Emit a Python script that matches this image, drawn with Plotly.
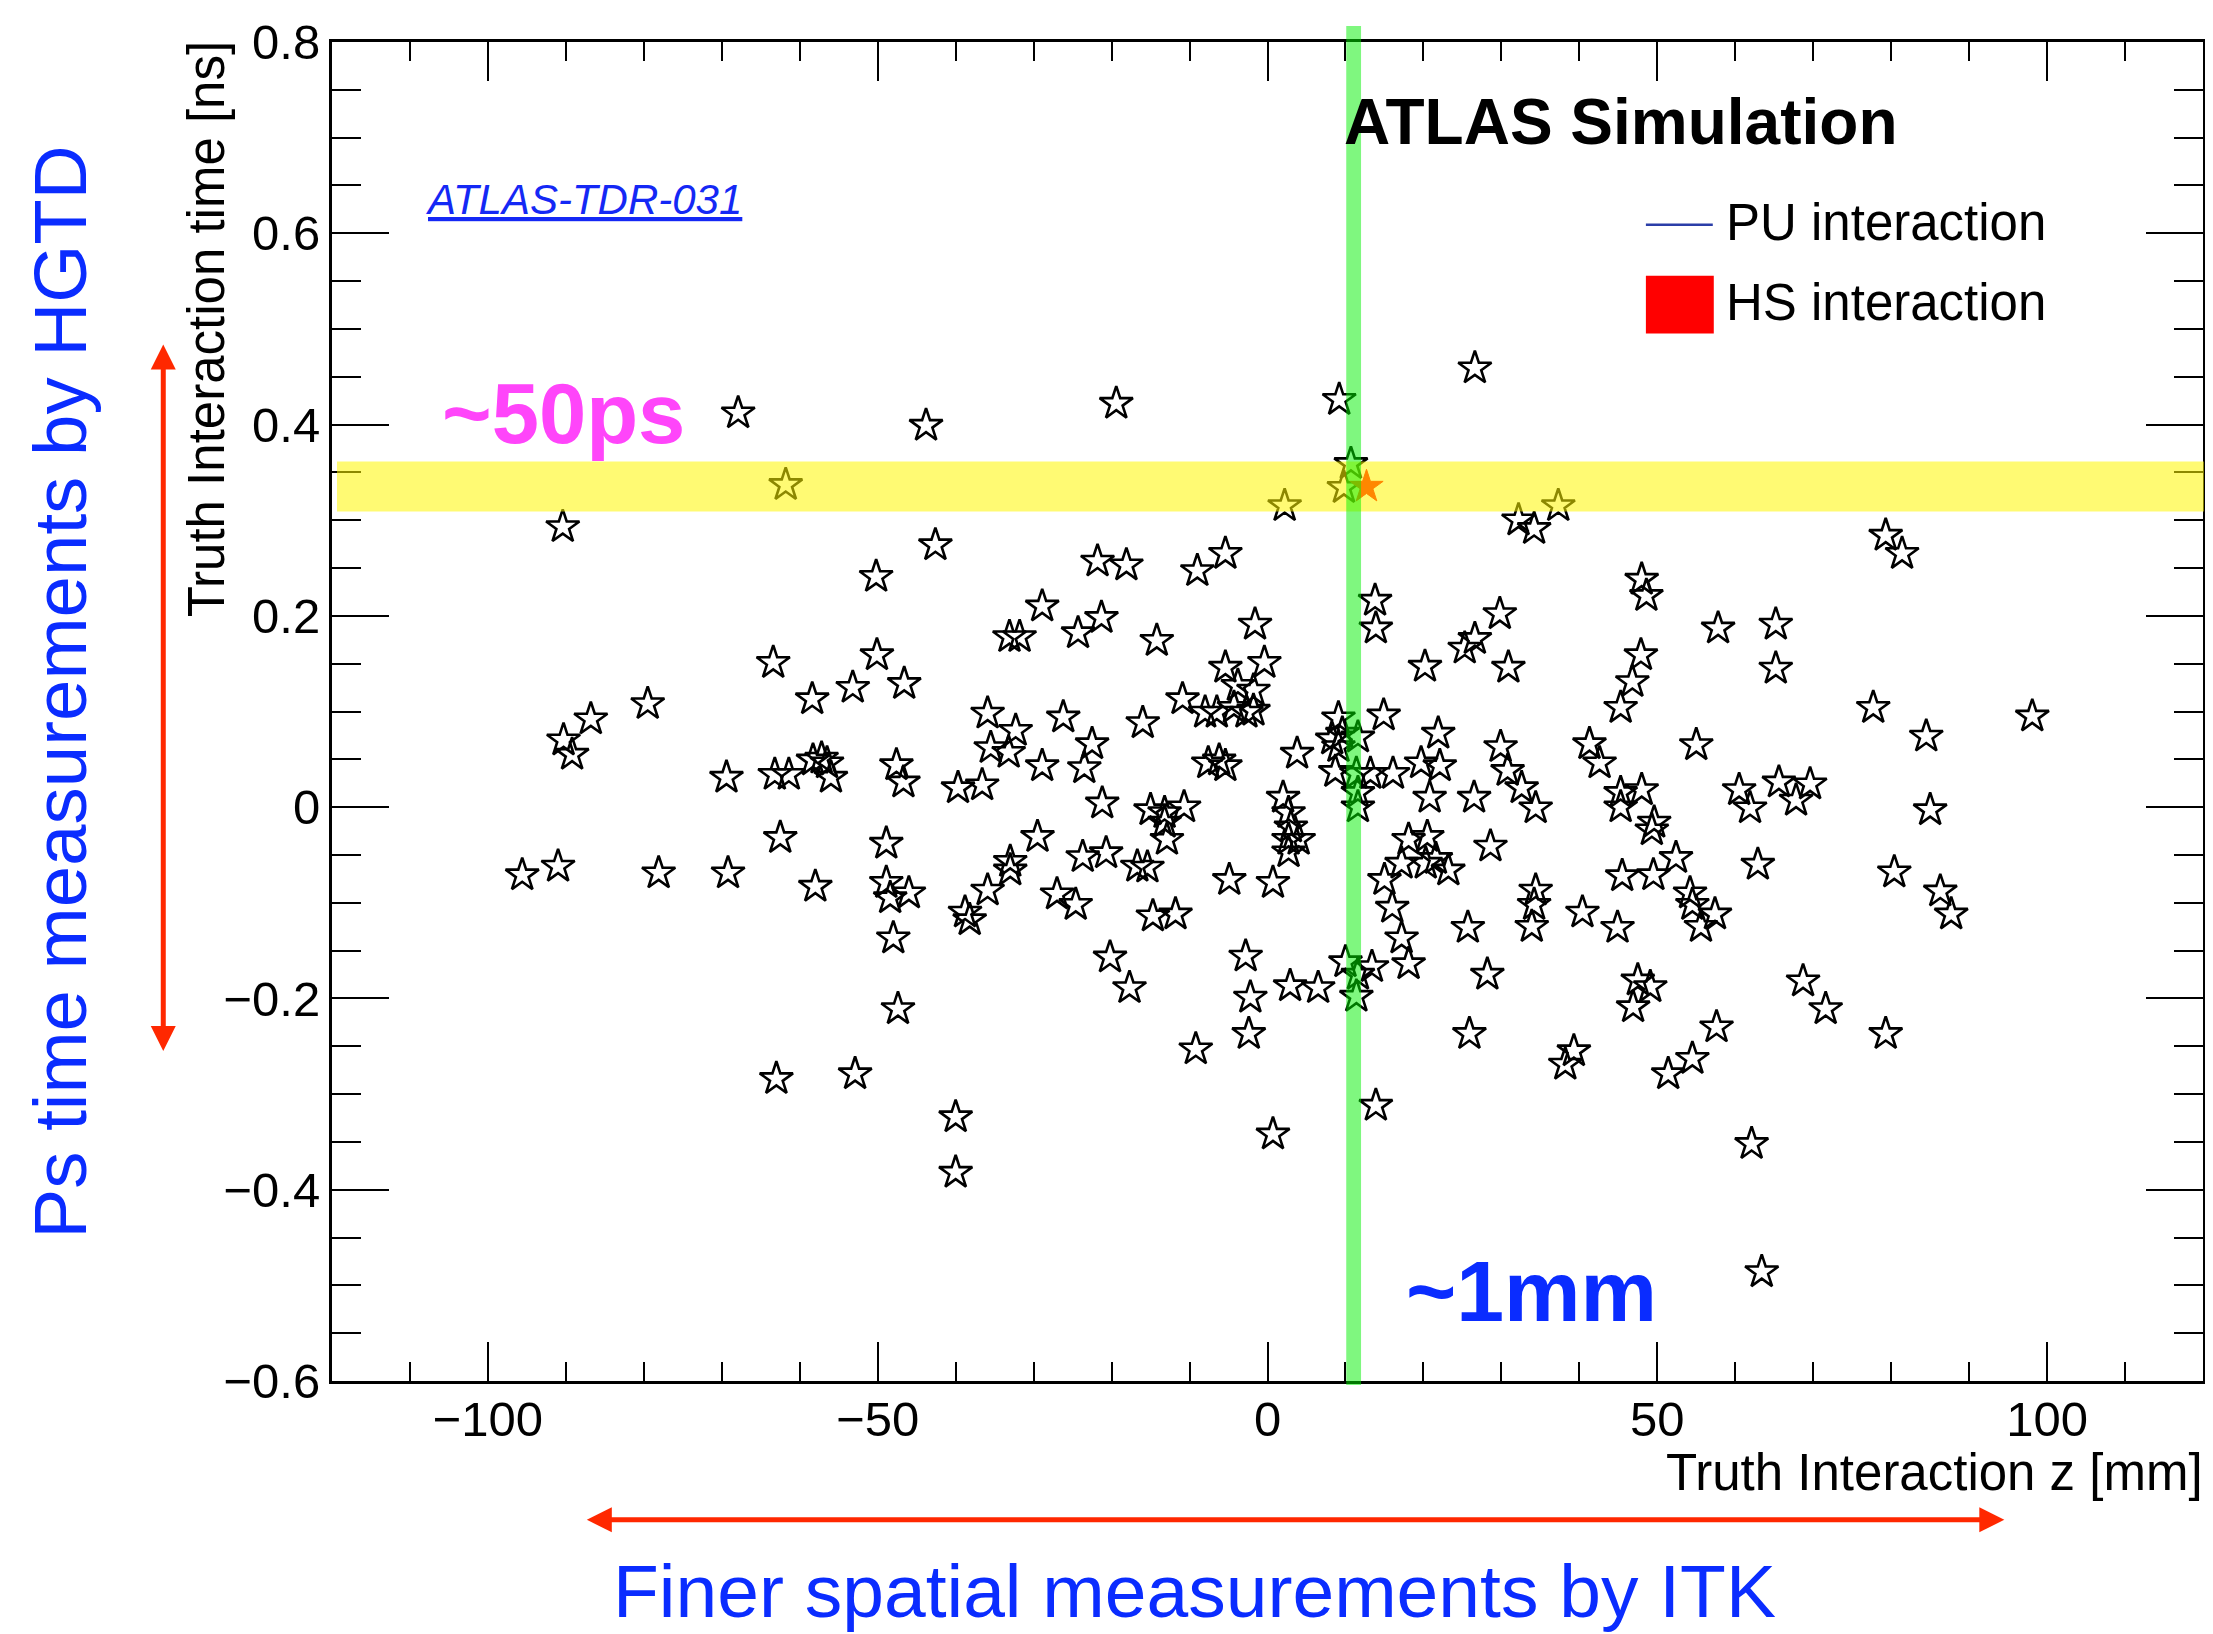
import plotly.graph_objects as go

# ---------------- data ----------------
pu_z = [26.6, 9.2, -19.4, -67.9, -43.8, 10.7, 9.8, 2.2, -61.8, -90.4,
        32.2, 34.2, 37.3, -42.6, 79.3, 81.4, -50.2, -21.8, -18.1, -9.0,
        -5.4, -28.9, -33.1, -31.8, -21.3, -24.3, -14.2, -1.6, 13.8, 13.9,
        29.8, 25.3, 26.6, 30.9, 20.2, 48.0, 48.6, 57.8, 65.2, 65.2,
        47.9, 46.8, 45.3, -63.4, -50.1, -53.2, -46.6, -58.4, -79.5, -86.8,
        -90.3, -89.2, 77.7, 98.1, 84.5,
        -35.9, -32.3, -35.5, -33.2, -26.2, -22.5, -23.5, -28.9, -16.0, -10.9,
        -5.4, -0.4, -3.8, -1.8, -8.0, -6.5, -4.3, -2.7, -1.8, -39.7,
        -36.6, -21.2, -15.0, -13.2, -10.7, -7.6, -6.2, -5.4, 3.8, 9.1,
        8.3, 9.1, 9.6, 8.7, 11.6, 11.4, 11.6, 11.6, 2.0, 2.7,
        14.9, 21.9, 19.7, 22.1, 16.1, 13.2, 20.8, 26.5, 29.9, 30.8,
        32.6, 34.4, 41.3, 42.6, 55.0, 45.3, 48.0, 45.3, 60.5, 61.9,
        65.6, 67.8, 69.6, 85.0,
        -69.4, -63.2, -61.4, -58.3, -57.2, -56.5, -56.0, -47.6, -46.7,
        -95.6, -91.0, -78.1, -69.2, -62.5, -58.0, -48.9, -48.9, -48.4, -46.0,
        -48.0, -47.4, -63.0, -52.9, -40.0, -40.0, -38.8, -38.2, -35.9, -33.0,
        -33.0, -29.5, -27.0, -24.6, -23.7, -20.7, -16.7, -15.4, -14.7, -11.8,
        -12.9, -13.2, -4.9, 0.7, 2.7, 2.7, 4.0, 3.0, -20.2, -17.7,
        -2.8, -2.2, -2.4, -9.2, 2.9, 6.5, 10.0, 13.4, 11.6, 11.4,
        0.7, 13.9, 15.0, 16.0, 17.2, 18.1, 18.1, 20.5, 17.2, 20.3,
        21.6, 23.2, 28.6, 25.7, 28.2, 25.9, 34.4, 34.2, 33.9, 40.4,
        39.3, 38.2, 49.3, 49.6, 45.5, 49.5, 52.4, 62.9, 80.4, 86.3,
        87.7, 44.9, 54.2, 54.5, 55.6, 57.4, 47.5, 49.1, 46.9, 57.6,
        54.5, 51.4, 68.7, 71.6, 79.3, 62.1, 63.4]

pu_t = [0.459, 0.426, 0.422, 0.412, 0.399, 0.359, 0.334, 0.315, 0.337, 0.293,
        0.300, 0.291, 0.315, 0.274, 0.284, 0.265, 0.241, 0.257, 0.253, 0.247,
        0.265, 0.210, 0.178, 0.178, 0.198, 0.182, 0.174, 0.191, 0.216, 0.187,
        0.202, 0.166, 0.176, 0.146, 0.147, 0.238, 0.221, 0.187, 0.191, 0.145,
        0.159, 0.131, 0.104, 0.151, 0.159, 0.125, 0.129, 0.113, 0.108, 0.092,
        0.070, 0.055, 0.104, 0.095, 0.074,
        0.098, 0.080, 0.062, 0.057, 0.094, 0.066, 0.041, 0.043, 0.088, 0.113,
        0.146, 0.151, 0.127, 0.122, 0.099, 0.099, 0.104, 0.099, 0.101, 0.020,
        0.023, 0.004, -0.003, -0.006, 0.000, 0.046, 0.049, 0.043, 0.056, 0.093,
        0.071, 0.063, 0.077, 0.037, 0.073, 0.035, 0.015, 0.000, 0.010, -0.006,
        0.096, 0.077, 0.046, 0.043, 0.035, 0.035, 0.010, 0.010, 0.063, 0.038,
        0.020, -0.001, 0.066, 0.046, 0.065, 0.015, 0.018, 0.000, 0.018, -0.001,
        0.026, 0.007, 0.024, -0.003,
        0.031, 0.034, 0.034, 0.049, 0.051, 0.046, 0.031, 0.044, 0.026,
        -0.071, -0.062, -0.069, -0.069, -0.032, -0.083, -0.038, -0.079, -0.095, -0.090,
        -0.137, -0.211, -0.284, -0.279, -0.324, -0.382, -0.110, -0.118, -0.087, -0.057,
        -0.066, -0.031, -0.091, -0.102, -0.052, -0.048, -0.062, -0.063, -0.114, -0.112,
        -0.034, -0.016, -0.076, -0.079, -0.034, -0.047, -0.034, -0.021, -0.157, -0.189,
        -0.156, -0.199, -0.237, -0.253, -0.187, -0.189, -0.162, -0.167, -0.175, -0.198,
        -0.342, -0.312, -0.076, -0.105, -0.137, -0.164, -0.034, -0.031, -0.059, -0.059,
        -0.054, -0.066, -0.041, -0.126, -0.175, -0.237, -0.087, -0.102, -0.125, -0.110,
        -0.255, -0.269, -0.024, -0.016, -0.072, -0.071, -0.053, -0.060, -0.068, -0.088,
        -0.112, -0.126, -0.090, -0.102, -0.125, -0.112, -0.181, -0.188, -0.209, -0.230,
        -0.263, -0.279, -0.182, -0.211, -0.237, -0.352, -0.486]

hs_z = [12.7]
hs_t = [0.335]

x_range = [-120, 120]
y_range = [-0.6, 0.8]
time_band = [0.309, 0.3615]   # yellow "~50ps" band (ns)
z_band = [10.1, 12.0]         # green "~1mm" band (mm)

FONT = "Liberation Sans, Arial, Helvetica, sans-serif"
BLUE = "#0a2cff"
RED_ARROW = "#ff2800"
MAGENTA = "#ff45fa"

# page body has an 8px default margin -> figure is drawn 8px in from the corner
OFF = 8
W, H = 2213 - OFF, 1634 - OFF
PL, PT, PR, PB = 332, 40, 2206, 1381          # plot frame in page pixels
L, T = PL - OFF, PT - OFF
R, B = W - (PR - OFF), H - (PB - OFF)
PW, PH = PR - PL, PB - PT


def px(X):
    return (X - PL) / PW


def py(Y):
    return (PB - Y) / PH


fig = go.Figure()
fig.add_trace(go.Scatter(
    x=pu_z, y=pu_t, mode="markers", name="PU interaction",
    marker=dict(symbol="star-open", size=25, color="black",
                line=dict(color="black", width=2.6)),
    showlegend=False, hoverinfo="x+y"))
fig.add_trace(go.Scatter(
    x=hs_z, y=hs_t, mode="markers", name="HS interaction",
    marker=dict(symbol="star", size=25, color="#ff0000",
                line=dict(color="#ff0000", width=1)),
    showlegend=False))

axis_common = dict(
    showline=True, linecolor="black", linewidth=3, mirror="allticks",
    ticks="inside", tickcolor="black", tickwidth=2,
    showgrid=False, zeroline=False,
    tickfont=dict(family=FONT, size=49, color="black"),
)
fig.update_xaxes(range=x_range, tick0=0, dtick=50, ticklen=39,
                 ticklabelstandoff=-7,
                 minor=dict(ticks="inside", dtick=10, ticklen=19,
                            tickwidth=2, tickcolor="black", showgrid=False),
                 **axis_common)
fig.update_yaxes(range=y_range, tick0=0, dtick=0.2, ticklen=57,
                 ticklabelstandoff=-1,
                 minor=dict(ticks="inside", dtick=0.05, ticklen=29,
                            tickwidth=2, tickcolor="black", showgrid=False),
                 **axis_common)

shapes = [
    # yellow time band
    dict(type="rect", xref="paper", yref="y", x0=px(337), x1=1.0005,
         y0=time_band[0], y1=time_band[1], layer="above",
         fillcolor="rgba(255,246,0,0.55)", line=dict(width=0)),
    # green z band
    dict(type="rect", xref="x", yref="paper", x0=z_band[0], x1=z_band[1],
         y0=py(1385), y1=py(24), layer="above",
         fillcolor="rgba(0,240,0,0.5)", line=dict(width=0)),
    # legend: PU line
    dict(type="line", xref="paper", yref="paper", x0=px(1648), x1=px(1715),
         y0=py(223), y1=py(223), line=dict(color="#2b3ea8", width=2.5)),
    # legend: HS box
    dict(type="rect", xref="paper", yref="paper", x0=px(1648), x1=px(1716),
         y0=py(332), y1=py(274), fillcolor="#ff0000", line=dict(width=0)),
]

ann = []


def text(s, X, Y, size, color="black", xanchor="center", yanchor="middle",
         angle=0):
    ann.append(dict(text=s, x=px(X), y=py(Y), xref="paper", yref="paper",
                    xanchor=xanchor, yanchor=yanchor, showarrow=False,
                    textangle=angle,
                    font=dict(family=FONT, size=size, color=color)))


text("Truth Interaction time [ns]", 206, 37, 51, yanchor="top", angle=-90)
text("Truth Interaction z [mm]", 2208, 1473, 51, xanchor="right")
text("<b>ATLAS Simulation</b>", 1344, 120, 64, xanchor="left")
text("PU interaction", 1726, 221, 51, xanchor="left")
text("HS interaction", 1726, 301, 51, xanchor="left")
text("<i><u>ATLAS-TDR-031</u></i>", 584, 198, 42, color="#1428f5")
text("<b>~50ps</b>", 564, 412, 85, color=MAGENTA)
text("<b>~1mm</b>", 1533, 1291, 86, color=BLUE)
text("Ps time measurements by HGTD", 60, 691, 74.5, color=BLUE, angle=-90)
text("Finer spatial measurements by ITK", 1196, 1591, 75, color=BLUE)

# red double arrows
ann.append(dict(text="", x=px(2007), y=py(1520), xref="paper", yref="paper",
                ax=588 - 2007, ay=0, showarrow=True, arrowside="end+start",
                arrowhead=2, startarrowhead=2, arrowsize=1, startarrowsize=1,
                arrowwidth=5, arrowcolor=RED_ARROW, standoff=0,
                startstandoff=0))
ann.append(dict(text="", x=px(163), y=py(343), xref="paper", yref="paper",
                ax=0, ay=1051 - 343, showarrow=True, arrowside="end+start",
                arrowhead=2, startarrowhead=2, arrowsize=1, startarrowsize=1,
                arrowwidth=5, arrowcolor=RED_ARROW, standoff=0,
                startstandoff=0))

fig.update_layout(
    width=W, height=H,
    margin=dict(l=L, r=R, t=T, b=B, pad=0),
    paper_bgcolor="white", plot_bgcolor="white",
    font=dict(family=FONT, color="black"),
    shapes=shapes, annotations=ann, showlegend=False,
)

fig.write_html("out.html")
